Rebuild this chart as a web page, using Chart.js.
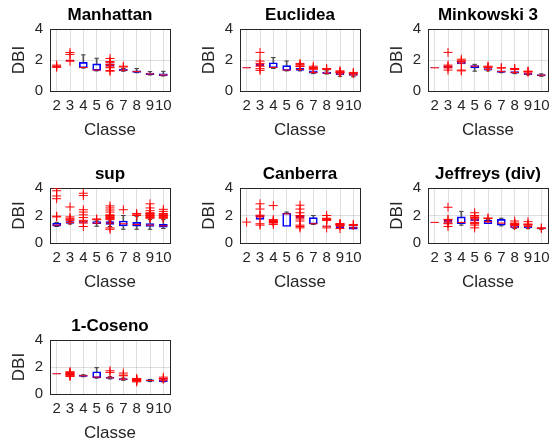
<!DOCTYPE html>
<html>
<head>
<meta charset="utf-8">
<script src="https://cdn.jsdelivr.net/npm/chart.js@4.4.1/dist/chart.umd.min.js"></script>
<style>
  body { margin: 0; background: #fff; width: 551px; height: 447px; overflow: hidden; position: relative; }
  canvas { position: absolute; }
</style>
</head>
<body>
<script>
// classes on the x axis of every panel
const classes = ["2", "3", "4", "5", "6", "7", "8", "9", "10"];
const metrics = ["Manhattan", "Euclidea", "Minkowski 3", "sup", "Canberra", "Jeffreys (div)", "1-Coseno"];
const yTicks = [0, 2, 4];

// box statistics, one row per metric (DBI values)
const q1 = [
  [1.55, 1.96, 1.50, 1.33, 1.60, 1.30, 1.20, 1.06, 0.99],
  [1.49, 1.62, 1.50, 1.32, 1.32, 1.15, 1.12, 1.05, 1.00],
  [1.49, 1.50, 1.75, 1.49, 1.35, 1.20, 1.15, 1.06, 0.98],
  [1.22, 1.42, 1.50, 1.40, 1.35, 1.25, 1.22, 1.20, 1.15],
  [null, 1.72, 1.50, 1.20, 1.80, 1.38, 1.20, 1.12, 1.00],
  [1.49, 1.50, 1.40, 1.60, 1.40, 1.30, 1.10, 1.10, 1.02],
  [1.49, 1.42, 1.30, 1.20, 1.15, 1.05, 1.00, 0.95, 0.92]
];
const median = [
  [1.56, 1.98, 1.52, 1.35, 1.70, 1.34, 1.25, 1.10, 1.03],
  [1.50, 1.68, 1.52, 1.35, 1.40, 1.20, 1.15, 1.10, 1.03],
  [1.50, 1.55, 1.80, 1.60, 1.40, 1.25, 1.20, 1.10, 1.02],
  [1.30, 1.48, 1.55, 1.45, 1.45, 1.40, 1.35, 1.30, 1.25],
  [null, 1.90, 1.55, 2.12, 1.88, 1.40, 1.22, 1.18, 1.10],
  [1.50, 1.58, 1.50, 1.68, 1.55, 1.45, 1.15, 1.20, 1.05],
  [1.50, 1.50, 1.35, 1.25, 1.20, 1.10, 1.02, 1.00, 0.98]
];
const q3 = [
  [1.58, 2.00, 1.85, 1.75, 1.75, 1.40, 1.30, 1.15, 1.10],
  [1.51, 1.74, 1.82, 1.64, 1.48, 1.30, 1.22, 1.15, 1.08],
  [1.51, 1.60, 1.87, 1.64, 1.45, 1.30, 1.25, 1.15, 1.06],
  [1.45, 1.55, 1.60, 1.55, 1.55, 1.60, 1.50, 1.42, 1.35],
  [null, 2.00, 1.60, 2.18, 1.95, 1.85, 1.25, 1.25, 1.18],
  [1.51, 1.65, 1.90, 1.75, 1.65, 1.72, 1.25, 1.25, 1.10],
  [1.51, 1.55, 1.40, 1.65, 1.25, 1.15, 1.05, 1.05, 1.05]
];
const whiskLow = [
  [1.55, 1.96, 1.48, 1.30, 1.60, 1.28, 1.18, 1.04, 0.97],
  [1.49, 1.62, 1.45, 1.30, 1.30, 1.12, 1.10, 0.95, 0.92],
  [1.49, 1.50, 1.75, 1.28, 1.30, 1.18, 1.12, 1.04, 0.95],
  [1.20, 1.38, 1.50, 1.22, 1.20, 1.00, 1.00, 1.00, 1.05],
  [null, 1.72, 1.50, 1.20, 1.80, 1.35, 1.20, 1.12, 1.00],
  [1.49, 1.50, 1.30, 1.60, 1.40, 1.25, 1.05, 1.05, 1.00],
  [1.49, 1.42, 1.28, 1.18, 1.12, 1.02, 1.00, 0.92, 0.90]
];
const whiskHigh = [
  [1.58, 2.00, 2.33, 2.11, 1.75, 1.45, 1.45, 1.25, 1.27],
  [1.51, 1.74, 2.16, 1.93, 1.48, 1.30, 1.30, 1.15, 1.08],
  [1.51, 1.60, 1.87, 1.72, 1.45, 1.30, 1.25, 1.15, 1.10],
  [1.50, 1.58, 1.60, 1.60, 1.60, 2.00, 1.95, 1.70, 1.70],
  [null, 2.00, 1.60, 2.25, 1.95, 2.00, 1.25, 1.25, 1.18],
  [1.51, 1.65, 2.30, 1.75, 1.70, 1.80, 1.25, 1.25, 1.10],
  [1.51, 1.55, 1.42, 1.95, 1.28, 1.18, 1.05, 1.08, 1.08]
];
// outliers (red +), one list per class
const outliers = [
  [[1.67, 1.6, 1.53], [2.48, 2.36, 1.92], [], [], [2.1, 1.9, 1.85, 1.72, 1.68, 1.55, 1.5, 1.32, 1.28], [1.6, 1.55], [], [], []],
  [[], [2.49, 1.93, 1.78, 1.6, 1.44, 1.33], [], [], [1.78, 1.7, 1.62, 1.58], [1.6, 1.52, 1.48, 1.44, 1.4], [1.45, 1.38], [1.3, 1.25, 1.2, 1.18], [1.2, 1.15, 1.12]],
  [[], [2.49, 1.67, 1.6, 1.49, 1.35], [2.05, 1.95, 1.9, 1.35, 1.3], [], [1.6, 1.55, 1.52], [1.5, 1.48], [1.45, 1.42, 1.38], [1.28, 1.25, 1.22], []],
  [[4.0, 3.8, 3.42, 3.22, 1.95, 1.9], [2.62, 1.9, 1.8, 1.72, 1.62], [3.62, 3.45, 2.42, 2.25, 2.05, 1.85, 1.65, 1.45, 1.2], [1.75, 1.7],
   [2.7, 2.55, 2.4, 2.25, 2.05, 2.0, 1.95, 1.9, 1.85, 1.8, 1.75, 1.7, 1.1, 1.0], [2.42], [2.15, 2.05, 2.0],
   [2.85, 2.55, 2.35, 2.2, 2.15, 2.1, 2.05, 2.0, 1.95, 1.9, 1.85, 1.8], [2.45, 2.3, 2.15, 2.1, 2.05, 2.0, 1.95, 1.9, 1.85, 1.8]],
  [[1.52], [2.85, 2.47, 2.02, 1.95, 1.4, 1.3], [2.72, 1.7, 1.65, 1.6, 1.55, 1.5, 1.45, 1.35], [],
   [2.75, 2.47, 2.2, 2.0, 1.9, 1.75, 1.6, 1.3, 1.2, 1.1], [], [2.0, 1.8, 1.75, 1.72, 1.68, 1.65, 1.1], [1.42, 1.38, 1.35, 1.3, 1.28, 1.05], [1.35, 1.3, 1.28]],
  [[], [2.6, 1.72, 1.68, 1.45, 1.4, 1.2], [], [2.2, 2.0, 1.9, 1.85, 1.8, 1.5, 1.45, 1.4, 1.3, 1.1], [1.82, 1.78], [],
   [1.6, 1.45, 1.4, 1.38, 1.35, 1.3, 1.28], [1.55, 1.38, 1.35, 1.3], [1.1, 1.06]],
  [[], [1.65, 1.6, 1.55, 1.5, 1.45, 1.4, 1.35, 1.3], [], [], [1.72, 1.6], [1.55, 1.4, 1.35], [1.15, 1.1, 1.08, 1.05, 1.02, 1.0, 0.95, 0.9], [], [1.25, 1.15, 1.1]]
];

const colLeft = [50, 240, 428];
const rowTop = [29, 188, 340];
const rowH = [62, 55, 54];
const plotW = 120;
const padRight = 14;
const txt = "#262626";
const fam = "'Liberation Sans', Arial, sans-serif";
const gridCol = "rgba(38,38,38,0.15)";

metrics.forEach((name, m) => {
  const col = m % 3, row = Math.floor(m / 3);
  const w = 50 + plotW + padRight, h = 24 + rowH[row] + 50;
  const cv = document.createElement("canvas");
  cv.width = w; cv.height = h;
  cv.style.left = (colLeft[col] - 50) + "px";
  cv.style.top = (rowTop[row] - 24) + "px";
  document.body.appendChild(cv);

  const boxes = classes.map((c, i) => q1[m][i] == null ? null : [q1[m][i], q3[m][i]]);
  const wLo = classes.map((c, i) => whiskLow[m][i] != null && whiskLow[m][i] < q1[m][i] ? [whiskLow[m][i], q1[m][i]] : null);
  const wHi = classes.map((c, i) => whiskHigh[m][i] != null && whiskHigh[m][i] > q3[m][i] ? [q3[m][i], whiskHigh[m][i]] : null);
  const caps = [];
  classes.forEach((c, i) => {
    if (wLo[i]) caps.push({ x: c, y: whiskLow[m][i] });
    if (wHi[i]) caps.push({ x: c, y: whiskHigh[m][i] });
  });
  const meds = [];
  classes.forEach((c, i) => { if (median[m][i] != null) meds.push({ x: c, y: median[m][i] }); });
  const outs = [];
  classes.forEach((c, i) => outliers[m][i].forEach(v => outs.push({ x: c, y: v })));

  new Chart(cv, {
    type: "bar",
    data: {
      labels: classes,
      datasets: [
        { type: "scatter", data: outs, pointStyle: "cross", radius: 4.5, borderColor: "#ff0000", borderWidth: 1, order: 0 },
        { type: "scatter", data: meds, pointStyle: "line", radius: 4, borderColor: "#ff0000", borderWidth: 1, order: 1 },
        { data: boxes, backgroundColor: "rgba(0,0,0,0)", borderColor: "#0000ff", borderWidth: 1, borderSkipped: false, barThickness: 8, grouped: false, order: 2 },
        { data: wLo, backgroundColor: "#555", borderWidth: 0, barThickness: 1, grouped: false, order: 3 },
        { data: wHi, backgroundColor: "#555", borderWidth: 0, barThickness: 1, grouped: false, order: 3 },
        { type: "scatter", data: caps, pointStyle: "line", radius: 2.2, borderColor: "#333", borderWidth: 1, order: 3 }
      ]
    },
    options: {
      responsive: false,
      animation: false,
      layout: { padding: { left: 0, right: padRight, top: 0, bottom: 0 } },
      plugins: {
        legend: { display: false },
        tooltip: { enabled: false },
        title: {
          display: true, text: name, color: "#000", fullSize: false,
          font: { family: fam, size: 17, weight: "bold" },
          padding: { top: 0, bottom: 3.6 }
        }
      },
      scales: {
        x: {
          type: "category",
          offset: true,
          grid: { offset: false, color: gridCol, drawTicks: false },
          border: { color: txt },
          ticks: { color: txt, font: { family: fam, size: 15 }, padding: 6, maxRotation: 0, autoSkip: false },
          title: { display: true, text: "Classe", color: txt, font: { family: fam, size: 17 }, padding: { top: 0, bottom: 0 } },
          afterFit: s => { s.height = 50; }
        },
        y: {
          min: 0, max: 4,
          grid: { color: gridCol, drawTicks: false },
          border: { color: txt },
          afterBuildTicks: s => { s.ticks = yTicks.map(v => ({ value: v })); },
          ticks: { color: txt, font: { family: fam, size: 15 }, padding: 7 },
          title: { display: true, text: "DBI", color: txt, font: { family: fam, size: 17 }, padding: { top: 9, bottom: 0 } },
          afterFit: s => { s.width = 50; }
        },
        x2: {
          type: "category", position: "top", labels: classes,
          grid: { display: false, drawTicks: false },
          border: { color: txt },
          ticks: { display: false },
          afterFit: s => { s.height = 0; }
        },
        y2: {
          type: "linear", position: "right", min: 0, max: 4,
          grid: { display: false, drawTicks: false },
          border: { color: txt },
          ticks: { display: false },
          afterFit: s => { s.width = 0; }
        }
      }
    }
  });
});
</script>
</body>
</html>
